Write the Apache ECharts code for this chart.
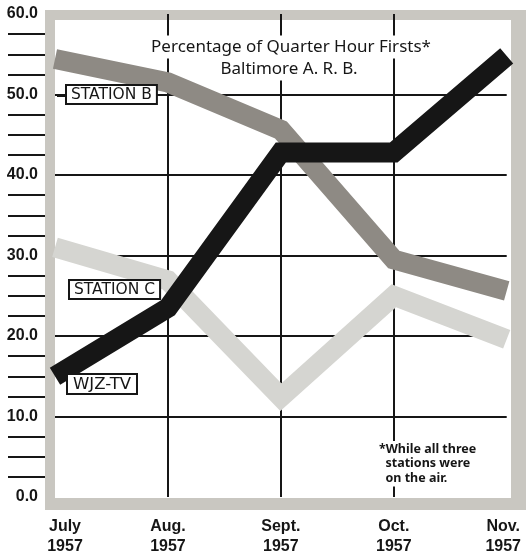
<!DOCTYPE html>
<html>
<head>
    <meta charset="UTF-8">
    <title>Quarter Hour Firsts</title>
    <script src="https://cdn.jsdelivr.net/npm/echarts@6/dist/echarts.min.js"></script>
    <style>
        body { margin: 0; background: #fff; }
    </style>
</head>
<body>
    <div id="main" style="width: 531px;height:555px;"></div>
    <script type="text/javascript">
        // chart data
        var months = ['July', 'Aug.', 'Sept.', 'Oct.', 'Nov.'];
        var years = ['1957', '1957', '1957', '1957', '1957'];
        var wjzTv = [15.0, 23.5, 42.8, 42.8, 54.8];
        var stationB = [54.4, 51.5, 45.6, 29.5, 25.6];
        var stationC = [31.0, 26.9, 12.4, 25.0, 19.6];

        var myChart = echarts.init(document.getElementById('main'));

        var ink = '#161616';

        function labelStyle(pad) {
            return {
                fontFamily: 'Liberation Sans',
                fontWeight: 'bold',
                fontSize: 16,
                color: ink,
                lineHeight: 20,
                padding: pad
            };
        }

        myChart.setOption({
            animation: false,
            backgroundColor: '#fff',
            grid: {
                left: 55,
                right: 20,
                top: 14,
                bottom: 57
            },
            xAxis: {
                type: 'category',
                boundaryGap: false,
                data: months,
                axisLine: { show: false },
                axisTick: { show: false },
                axisLabel: {
                    margin: 20,
                    interval: 0,
                    formatter: function (v, i) {
                        var k = i === 0 ? 'first' : (i === months.length - 1 ? 'last' : 'n');
                        return '{' + k + '|' + v + '}\n{' + k + '|' + years[i] + '}';
                    },
                    rich: {
                        n: labelStyle(0),
                        first: labelStyle([0, 0, 0, 20]),
                        last: labelStyle([0, 7, 0, 0])
                    }
                },
                splitLine: {
                    show: true,
                    lineStyle: {
                        color: ['transparent', ink, ink, ink, 'transparent'],
                        width: 2
                    }
                }
            },
            yAxis: {
                type: 'value',
                min: 0,
                max: 60,
                interval: 10,
                offset: 10,
                axisLine: { show: false },
                axisTick: { show: false },
                minorTick: {
                    show: true,
                    splitNumber: 4,
                    length: 37,
                    lineStyle: { color: ink, width: 2 }
                },
                axisLabel: {
                    margin: 7,
                    fontFamily: 'Liberation Sans',
                    fontWeight: 'bold',
                    fontSize: 16,
                    color: ink,
                    padding: [6, 0, 0, 0],
                    formatter: function (v) { return v.toFixed(1); }
                },
                splitLine: {
                    show: true,
                    lineStyle: {
                        color: ['transparent', ink, ink, ink, ink, ink, 'transparent'],
                        width: 2
                    }
                }
            },
            graphic: [
                // grey frame round the plot
                { type: 'rect', z: -20, shape: { x: 45, y: 10, width: 481, height: 500 },
                  style: { fill: '#c9c7c1' } },
                { type: 'rect', z: -19, shape: { x: 55, y: 20, width: 456, height: 478 },
                  style: { fill: '#ffffff' } },
                // title
                { type: 'text', z: 5, x: 291, y: 47,
                  style: { text: 'Percentage of Quarter Hour Firsts*', font: '17px "Noto Sans"',
                           fill: ink, align: 'center', verticalAlign: 'middle',
                           backgroundColor: '#fff', padding: [3, 2] } },
                { type: 'text', z: 5, x: 289, y: 69,
                  style: { text: 'Baltimore A. R. B.', font: '17px "Noto Sans"',
                           fill: ink, align: 'center', verticalAlign: 'middle',
                           backgroundColor: '#fff', padding: [3, 2] } },
                // footnote
                { type: 'text', z: 5, x: 377, y: 441,
                  style: { text: '*While all three\n  stations were\n  on the air.',
                           font: 'bold 12.5px "Noto Sans"', lineHeight: 14.5,
                           fill: ink, backgroundColor: '#fff', padding: [1, 2] } },
                // series name boxes
                { type: 'rect', z: 100, shape: { x: 57, y: 95, width: 9, height: 2 },
                  style: { fill: ink } },
                { type: 'text', z: 100, x: 67, y: 86,
                  style: { text: 'STATION B', font: '15.5px "DejaVu Sans"', fill: ink,
                           backgroundColor: '#fff', borderColor: ink, borderWidth: 2,
                           padding: [1, 4, 0, 4] } },
                { type: 'text', z: 100, x: 70, y: 281,
                  style: { text: 'STATION C', font: '15.5px "DejaVu Sans"', fill: ink,
                           backgroundColor: '#fff', borderColor: ink, borderWidth: 2,
                           padding: [1, 4, 0, 4] } },
                { type: 'text', z: 100, x: 68, y: 375,
                  style: { text: 'WJZ-TV', font: '16.5px "DejaVu Sans"', fill: ink,
                           backgroundColor: '#fff', borderColor: ink, borderWidth: 2,
                           padding: [1, 5, 0, 5] } }
            ],
            series: [
                {
                    name: 'STATION C',
                    type: 'line',
                    data: stationC,
                    showSymbol: false,
                    z: 2,
                    lineStyle: { color: '#d5d5d1', width: 20, cap: 'butt', join: 'miter' }
                },
                {
                    name: 'STATION B',
                    type: 'line',
                    data: stationB,
                    showSymbol: false,
                    z: 3,
                    lineStyle: { color: '#8e8a84', width: 20, cap: 'butt', join: 'miter' }
                },
                {
                    name: 'WJZ-TV',
                    type: 'line',
                    data: wjzTv,
                    showSymbol: false,
                    z: 4,
                    lineStyle: { color: '#161616', width: 20, cap: 'butt', join: 'miter' }
                }
            ]
        });
    </script>
</body>
</html>
